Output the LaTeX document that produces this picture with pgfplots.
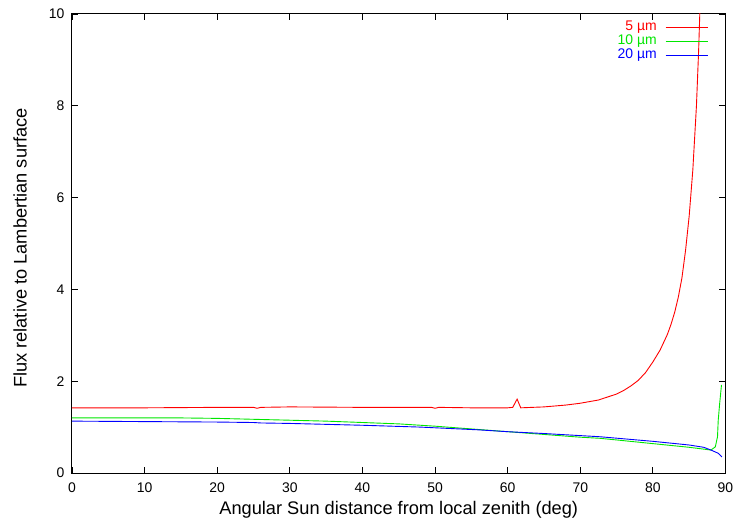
\documentclass[border=0pt]{standalone}
\usepackage{fontspec}
\setmainfont{Liberation Sans}
\usepackage{pgfplots}
\pgfplotsset{compat=1.18}
\definecolor{gpred}{RGB}{255,0,0}
\definecolor{gpgreen}{RGB}{0,230,0}
\definecolor{gpblue}{RGB}{0,0,255}
\begin{document}
\begin{tikzpicture}
\path[use as bounding box] (-72bp,-51bp) rectangle (664bp,473bp);
\begin{axis}[
  at={(0,0)}, anchor=south west,
  scale only axis, width=653.5bp, height=459bp,
  xmin=0, xmax=90, ymin=0, ymax=10,
  xtick={0,10,...,90}, ytick={0,2,...,10},
  tick align=inside, major tick length=6bp,
  xtick pos=both, ytick pos=both,
  axis line style={line width=1bp},
  every tick/.style={black, line width=0.8bp},
  /pgf/number format/assume math mode=true,
  tick label style={font=\fontsize{14}{16}\selectfont},
  xticklabel style={yshift=-6bp},
  yticklabel style={xshift=-4bp},
  xlabel={Angular Sun distance from local zenith (deg)},
  ylabel={Flux relative to Lambertian surface},
  label style={font=\fontsize{18.3}{21}\selectfont},
  xlabel style={at={(axis description cs:0.5,0)}, anchor=center, yshift=-37bp},
  ylabel style={at={(axis description cs:0,0.49)}, anchor=center, yshift=52bp},
  legend plot pos=right,
  legend cell align=right,
  legend style={at={(rel axis cs:0.973,0.986)}, anchor=north east,
    draw=none, fill=none, inner sep=0pt,
    font=\fontsize{14}{15}\selectfont, row sep=0pt,
    nodes={inner sep=0.5bp, text height=9.8bp, text depth=3bp}},
]
\addplot[gpred, line width=0.9bp,
  legend image code/.code={\path (0bp,0bp);
    \node[inner sep=0pt, outer sep=0pt, text height=, text depth=, anchor=west] at (8bp,0bp) {\textcolor{gpred}{\rule{42bp}{0.9bp}}};}] coordinates {
(0,1.42) (10,1.42) (20,1.43) (25,1.43) (25.5,1.41) (26,1.43) (30,1.44) (40,1.43)
(49.5,1.43) (50,1.41) (50.5,1.43) (55,1.42) (60,1.42) (60.7,1.43) (61.3,1.61)
(61.8,1.42) (65,1.44) (68,1.48) (70,1.52) (72.5,1.59) (75,1.72) (76,1.80)
(77,1.90) (78,2.02) (79,2.19) (80,2.42) (81,2.68) (82,3.02) (82.5,3.24) (83,3.5)
(83.5,3.83) (84,4.25) (84.5,4.85) (85,5.6) (85.5,6.6) (86,8.0) (86.3,9.2) (86.5,10.2)
};
\addlegendentry{\textcolor{gpred}{5 µm}}
\addplot[gpgreen, line width=0.9bp,
  legend image code/.code={\path (0bp,0bp);
    \node[inner sep=0pt, outer sep=0pt, text height=, text depth=, anchor=west] at (8bp,0bp) {\textcolor{gpgreen}{\rule{42bp}{0.9bp}}};}] coordinates {
(0,1.20) (10,1.20) (15,1.20) (20,1.19) (25,1.17) (30,1.15) (35,1.13) (40,1.10)
(45,1.07) (50,1.02) (55,0.96) (60,0.90) (65,0.84) (70,0.78) (72.7,0.756) (75,0.72)
(80,0.64) (85,0.56) (88,0.50) (88.6,0.57) (88.9,0.79) (89.0,1.15) (89.2,1.52) (89.45,1.92)
};
\addlegendentry{\textcolor{gpgreen}{10 µm}}
\addplot[gpblue, line width=0.9bp,
  legend image code/.code={\path (0bp,0bp);
    \node[inner sep=0pt, outer sep=0pt, text height=, text depth=, anchor=west] at (8bp,0bp) {\textcolor{gpblue}{\rule{42bp}{0.9bp}}};}] coordinates {
(0,1.13) (10,1.12) (20,1.11) (25,1.10) (26,1.09) (30,1.08) (40,1.04) (48,1.00)
(56,0.94) (60,0.90) (65,0.86) (72.7,0.79) (80,0.69) (85,0.61) (87,0.56) (88,0.50)
(89,0.43) (89.5,0.35)
};
\addlegendentry{\textcolor{gpblue}{20 µm}}
\end{axis}
\end{tikzpicture}
\end{document}
